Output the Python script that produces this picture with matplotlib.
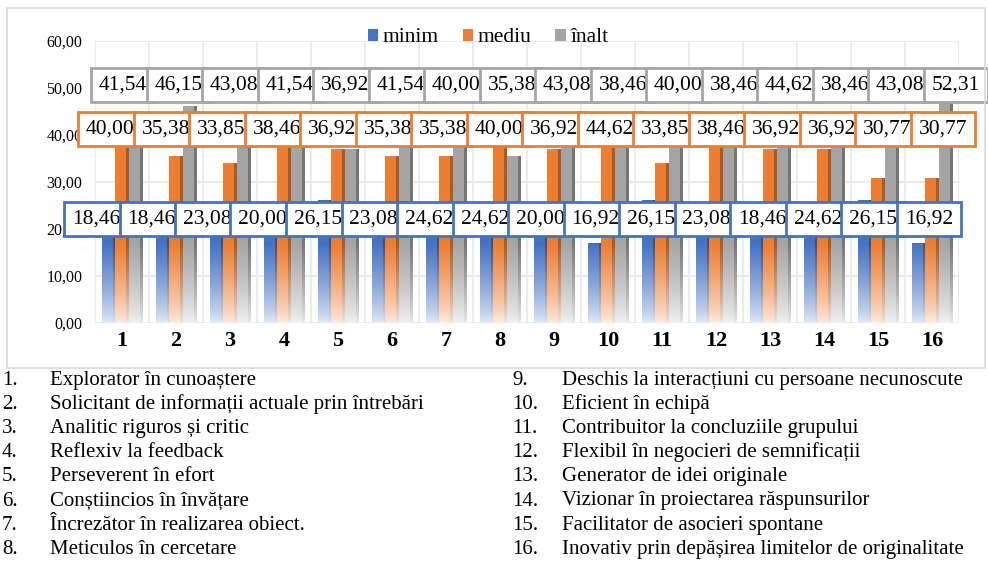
import numpy as np
import matplotlib
matplotlib.use("Agg")
import matplotlib.pyplot as plt
from matplotlib.patches import Patch, Rectangle
from matplotlib.colors import to_rgb

plt.rcParams["font.family"] = ["Liberation Serif", "DejaVu Serif"]

categories = [str(i) for i in range(1, 17)]
series_names = ["minim", "mediu", "înalt"]
minim = [18.46, 18.46, 23.08, 20.00, 26.15, 23.08, 24.62, 24.62,
         20.00, 16.92, 26.15, 23.08, 18.46, 24.62, 26.15, 16.92]
mediu = [40.00, 35.38, 33.85, 38.46, 36.92, 35.38, 35.38, 40.00,
         36.92, 44.62, 33.85, 38.46, 36.92, 36.92, 30.77, 30.77]
inalt = [41.54, 46.15, 43.08, 41.54, 36.92, 41.54, 40.00, 35.38,
         43.08, 38.46, 40.00, 38.46, 44.62, 38.46, 43.08, 52.31]
descrieri = [
    "Explorator în cunoaștere",
    "Solicitant de informații actuale prin întrebări",
    "Analitic riguros și critic",
    "Reflexiv la feedback",
    "Perseverent în efort",
    "Conștiincios în învățare",
    "Încrezător în realizarea obiect.",
    "Meticulos în cercetare",
    "Deschis la interacțiuni cu persoane necunoscute",
    "Eficient în echipă",
    "Contribuitor la concluziile grupului",
    "Flexibil în negocieri de semnificații",
    "Generator de idei originale",
    "Vizionar în proiectarea răspunsurilor",
    "Facilitator de asocieri spontane",
    "Inovativ prin depășirea limitelor de originalitate",
]

colors = ["#4472C4", "#ED7D31", "#A5A5A5"]
values = [minim, mediu, inalt]

W, H = 988, 562
fig = plt.figure(figsize=(W / 100, H / 100), dpi=100)

# chart frame
fig.patches.append(Rectangle((7 / W, 1 - 368 / H), 978 / W, 360 / H,
                             transform=fig.transFigure, fill=False,
                             edgecolor="#D9D9D9", lw=1.2))

ax = fig.add_axes([95 / W, 1 - 323 / H, 864 / W, 282 / H])
ax.set_xlim(-0.5, 15.5)
ax.set_ylim(0, 60)
for s in ax.spines.values():
    s.set_visible(False)
ax.set_yticks(np.arange(0, 61, 10))
ax.set_yticklabels([f"{v:.2f}".replace(".", ",") for v in np.arange(0, 61, 10)],
                   fontsize=11.5)
ax.set_xticks(range(16))
ax.set_xticklabels(categories, fontsize=16, fontweight="bold")
ax.tick_params(axis="y", length=0, pad=9)
ax.tick_params(axis="x", length=0, pad=6)
for yv in range(0, 61, 10):
    ax.axhline(yv, color="#EBEBEB", lw=1.5, zorder=0)
for xv in np.arange(-0.5, 16, 1):
    ax.axvline(xv, color="#EBEBEB", lw=1.5, zorder=0)


def bar_image(color, h, n=120):
    c = np.array(to_rgb(color))
    y = np.linspace(0, h, n)
    t = np.clip(y / 17.0, 0, 1) ** 0.8
    t = 0.15 + 0.85 * t
    img = (1 - t)[:, None] * np.ones(3) + t[:, None] * c
    return img[:, None, :]


bw = 0.25
for si, (vals, col) in enumerate(zip(values, colors)):
    dark = np.array(to_rgb(col)) * 0.72
    for i, v in enumerate(vals):
        x0 = i + (si - 1) * bw - bw / 2
        ax.imshow(bar_image(col, v), extent=[x0, x0 + bw * 0.8, 0, v],
                  origin="lower", aspect="auto", zorder=2)
        ax.imshow(bar_image(dark, v), extent=[x0 + bw * 0.8, x0 + bw, 0, v],
                  origin="lower", aspect="auto", zorder=2)
ax.set_xlim(-0.5, 15.5)
ax.set_ylim(0, 60)

# data labels (boxes)
label_y = [22.1, 41.3, 50.6]
label_x0 = [-0.48, -0.22, 0.02]
for si, (vals, col) in enumerate(zip(values, colors)):
    for i, v in enumerate(vals):
        ax.text(i + label_x0[si] + 0.028 * i, label_y[si],
                f"{v:.2f}".replace(".", ","), fontsize=15.5,
                ha="center", va="center", zorder=10 + si * 20 + i,
                bbox=dict(boxstyle="square,pad=0.36", fc="white",
                          ec=col, lw=2))

handles = [Patch(facecolor=c, edgecolor="none") for c in colors]
fig.legend(handles, series_names, loc="center", bbox_to_anchor=(488 / W, 1 - 38 / H),
           ncol=3, frameon=False, fontsize=15.5, handlelength=0.5,
           handleheight=0.45, handletextpad=0.2, columnspacing=1.1)

# list of descriptions below the chart
for k, txt in enumerate(descrieri):
    col = k // 8
    row = k % 8
    ypx = 385 + row * 24.1
    xn = [2, 512][col]
    xt = [50, 562][col]
    fig.text(xn / W, 1 - ypx / H, f"{k + 1}.", fontsize=15, va="baseline")
    fig.text(xt / W, 1 - ypx / H, txt, fontsize=15, va="baseline")

fig.savefig("out.png", dpi=100)
